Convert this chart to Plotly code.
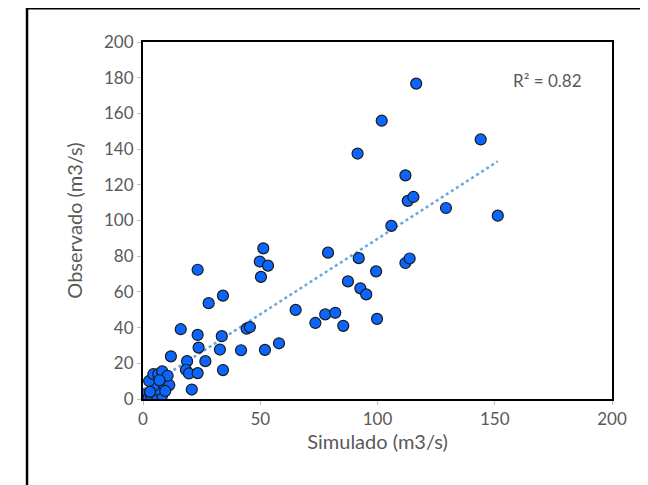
import numpy as np
import plotly.graph_objects as go

# Simulated (x) vs observed (y) flows, m3/s
simulado = [116.5, 101.8, 91.5, 144.0, 111.9, 112.9, 115.3, 129.2, 151.3, 105.9,
            78.9, 92.0, 99.4, 111.9, 113.7, 87.4, 92.7, 95.2, 65.1, 73.5,
            77.7, 82.0, 85.4, 99.8,
            23.3, 28.0, 34.1, 51.3, 49.8, 53.3, 50.3,
            16.1, 23.3, 33.6, 44.2, 45.6,
            23.7, 32.8, 41.8, 52.0, 58.0,
            26.6, 11.9, 18.8, 18.3, 19.6, 23.3, 34.1, 20.8,
            0.1, 2.3, 3.5, 6.0, 8.2, 5.8, 8.7, 4.4, 2.6, 4.4,
            6.5, 8.2, 9.7, 11.2, 10.5, 7.0, 3.0, 9.5]
observado = [176.7, 155.9, 137.5, 145.4, 125.3, 111.0, 113.2, 107.0, 102.7, 97.0,
             82.0, 78.9, 71.5, 76.2, 78.7, 65.9, 62.0, 58.6, 49.9, 42.6,
             47.4, 48.3, 41.0, 44.9,
             72.4, 53.7, 57.9, 84.4, 77.0, 74.7, 68.4,
             39.1, 35.9, 35.2, 39.4, 40.3,
             28.8, 27.7, 27.3, 27.5, 31.2,
             21.2, 23.9, 21.2, 16.4, 14.3, 14.5, 16.2, 5.3,
             2.5, 0.5, 1.2, 1.5, 2.1, 5.3, 8.2, 7.3, 10.1, 13.9,
             13.9, 15.5, 11.1, 7.8, 13.0, 10.5, 4.0, 4.5]

x_ticks = [0, 50, 100, 150, 200]
y_ticks = [0, 20, 40, 60, 80, 100, 120, 140, 160, 180, 200]
r2_label = "R² = 0.82"

xa = np.array(simulado)
ya = np.array(observado)
m, b = np.polyfit(xa, ya, 1)
tx = np.array([xa.min(), xa.max()])
ty = m * tx + b

fig = go.Figure()
fig.add_trace(go.Scatter(
    x=tx, y=ty, mode="lines",
    line=dict(color="#6aa6e0", width=2.5, dash="dot"),
    hoverinfo="skip", showlegend=False))
fig.add_trace(go.Scatter(
    x=simulado, y=observado, mode="markers",
    marker=dict(size=11, color="#0a66ff", line=dict(color="#1a1a1a", width=1.2)),
    showlegend=False))

font_family = "Lato, 'Open Sans', sans-serif"
grey = "#595959"

# page body has an 8px default margin, so the figure is 8px smaller
fig.update_layout(
    width=640, height=477,
    margin=dict(l=135, r=36, t=34, b=86),
    paper_bgcolor="white", plot_bgcolor="white",
    font=dict(family=font_family, size=17, color=grey),
    xaxis=dict(range=[0, 200], tickvals=x_ticks, showgrid=False, zeroline=False,
               showline=True, linecolor="black", linewidth=2, mirror=True,
               ticks="outside", ticklen=4, tickcolor="#bfbfbf",
               tickfont=dict(size=17, color=grey),
               title=dict(text="Simulado (m3/s)", font=dict(size=20, color=grey), standoff=7)),
    yaxis=dict(range=[0, 200], tickvals=y_ticks, showgrid=False, zeroline=False,
               showline=True, linecolor="black", linewidth=2, mirror=True,
               ticks="outside", ticklen=4, tickcolor="#bfbfbf",
               tickfont=dict(size=17, color=grey),
               title=dict(text="Observado (m3/s)", font=dict(size=20, color=grey), standoff=16)),
    annotations=[dict(x=0.862, y=0.893, xref="paper", yref="paper", text=r2_label,
                      showarrow=False, font=dict(size=17, color=grey),
                      xanchor="center", yanchor="middle")],
    shapes=[dict(type="rect", xref="paper", yref="paper",
                 x0=-0.2473, x1=1.3, y0=-0.6, y1=1.0946,
                 line=dict(color="black", width=2.5), layer="below")],
)

fig.write_html("out.html")
